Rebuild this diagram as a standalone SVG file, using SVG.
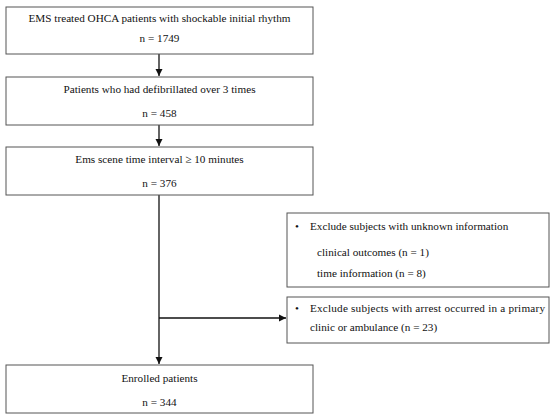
<svg xmlns="http://www.w3.org/2000/svg" width="550" height="420" viewBox="0 0 550 420">
<style>
.box{fill:#fff;stroke:#555;stroke-width:1}
.t{font-family:"Liberation Serif","Times New Roman",serif;font-size:11.2px;fill:#111}
.c{text-anchor:middle}
.ln{stroke:#111;stroke-width:1.3;fill:none}
</style>
<defs>
<marker id="ah" markerWidth="8" markerHeight="8" refX="7" refY="4" orient="auto" markerUnits="userSpaceOnUse">
<path d="M0,0.5 L7,4 L0,7.5 Z" fill="#111"/>
</marker>
</defs>
<rect width="550" height="420" fill="#fff"/>
<g id="connectors">
<line class="ln" x1="159" y1="54" x2="159" y2="76" marker-end="url(#ah)"/>
<line class="ln" x1="159" y1="125" x2="159" y2="146" marker-end="url(#ah)"/>
<line class="ln" x1="159" y1="195" x2="159" y2="364" marker-end="url(#ah)"/>
<line class="ln" x1="159" y1="318" x2="286" y2="318" marker-end="url(#ah)"/>
</g>
<g id="n1">
<rect class="box" x="6" y="7" width="307" height="47"/>
<text class="t c" x="159.5" y="22">EMS treated OHCA patients with shockable initial rhythm</text>
<text class="t c" x="159.5" y="42">n = 1749</text>
</g>
<g id="n2">
<rect class="box" x="6" y="77" width="307" height="48"/>
<text class="t c" x="159.5" y="93">Patients who had defibrillated over 3 times</text>
<text class="t c" x="159.5" y="117">n = 458</text>
</g>
<g id="n3">
<rect class="box" x="6" y="147" width="307" height="48"/>
<text class="t c" x="159.5" y="163">Ems scene time interval ≥ 10 minutes</text>
<text class="t c" x="159.5" y="187">n = 376</text>
</g>
<g id="n4">
<rect class="box" x="287" y="213" width="262" height="74"/>
<text class="t" x="295" y="230">•</text>
<text class="t" x="310" y="230">Exclude subjects with unknown information</text>
<text class="t" x="317" y="256">clinical outcomes (n = 1)</text>
<text class="t" x="317" y="277">time information (n = 8)</text>
</g>
<g id="n5">
<rect class="box" x="287" y="297" width="262" height="46"/>
<text class="t" x="295" y="312">•</text>
<text class="t" x="310" y="312" textLength="235" lengthAdjust="spacing">Exclude subjects with arrest occurred in a primary</text>
<text class="t" x="310" y="331">clinic or ambulance (n = 23)</text>
</g>
<g id="n6">
<rect class="box" x="6" y="365" width="307" height="48"/>
<text class="t c" x="159.5" y="382">Enrolled patients</text>
<text class="t c" x="159.5" y="406">n = 344</text>
</g>
</svg>
